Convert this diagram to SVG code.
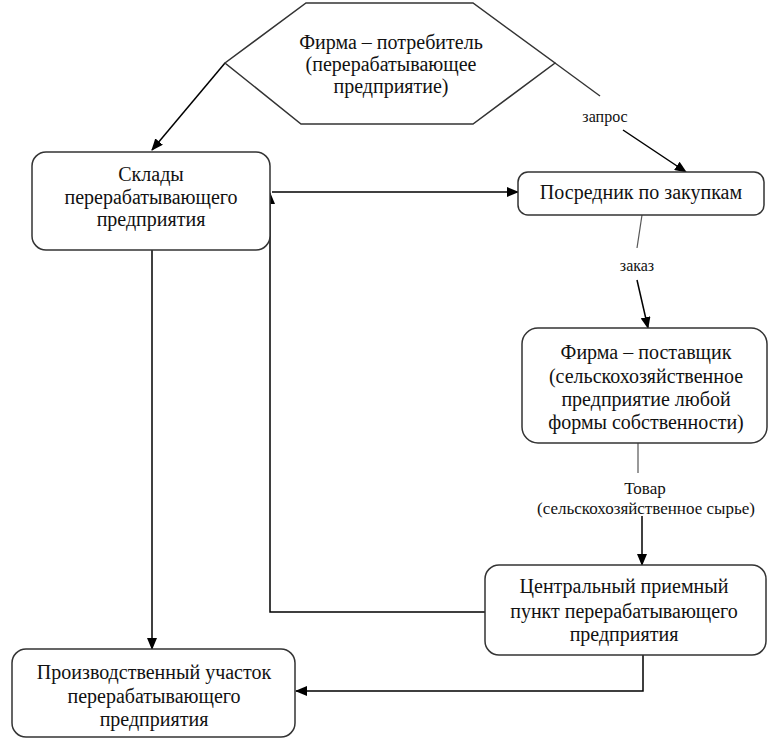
<svg xmlns="http://www.w3.org/2000/svg" width="773" height="741" viewBox="0 0 773 741">
  <defs>
    <marker id="arr" markerUnits="userSpaceOnUse" markerWidth="12" markerHeight="10" refX="11" refY="5" orient="auto">
      <path d="M0,0 L12,5 L0,10 Z" fill="#000"/>
    </marker>
    <style>
      .box { fill: #fff; stroke: #333; stroke-width: 1.5; }
      text { font-family: 'Liberation Serif', 'Times New Roman', 'DejaVu Serif', serif; fill: #111; text-anchor: middle; }
      .t { font-size: 20px; }
      .tb { font-size: 20px; }
      .lbl { font-size: 16px; }
      .lbl2 { font-size: 17px; }
      .c { fill: none; stroke: #000; stroke-width: 1.5; }
      .d { fill: none; stroke: #333; stroke-width: 1.4; }
      .g { fill: none; stroke: #555; stroke-width: 1.2; }
    </style>
  </defs>
  <rect width="773" height="741" fill="#fff"/>

  <g id="connectors">
    <line class="c" x1="225" y1="63" x2="152" y2="150" marker-end="url(#arr)"/>
    <line class="d" x1="555" y1="63" x2="600" y2="96"/>
    <line class="c" x1="623" y1="130" x2="686" y2="172" marker-end="url(#arr)"/>
    <line class="c" x1="272" y1="192" x2="518" y2="192" marker-end="url(#arr)"/>
    <line class="g" x1="642" y1="215" x2="637" y2="248"/>
    <line class="c" x1="637" y1="280" x2="648" y2="328" marker-end="url(#arr)"/>
    <line class="g" x1="638" y1="443" x2="638" y2="473"/>
    <line class="c" x1="642" y1="516" x2="642" y2="565" marker-end="url(#arr)"/>
    <polyline class="c" points="485,612 270,612 270,193" marker-end="url(#arr)"/>
    <line class="c" x1="152" y1="250" x2="152" y2="649" marker-end="url(#arr)"/>
    <polyline class="c" points="643,655 643,691 296,691" marker-end="url(#arr)"/>
  </g>

  <g id="labels" font-family="Liberation Serif, serif">
    <text class="lbl" x="605" y="122">запрос</text>
    <text class="lbl" x="637" y="271">заказ</text>
    <text class="lbl2" x="645" y="494">Товар</text>
    <text class="lbl2" x="646" y="514">(сельскохозяйственное сырье)</text>
  </g>

  <g id="consumer" font-family="Liberation Serif, serif">
    <polygon class="box" points="306,3 473,3 555,63 473,124 301,124 225,63"/>
    <text class="t" x="391" y="49">Фирма – потребитель</text>
    <text class="t" x="391" y="71">(перерабатывающее</text>
    <text class="t" x="391" y="93">предприятие)</text>
  </g>

  <g id="warehouses" font-family="Liberation Serif, serif">
    <rect class="box" x="32" y="152" width="238" height="98" rx="14"/>
    <text class="t" x="151" y="181">Склады</text>
    <text class="t" x="151" y="204">перерабатывающего</text>
    <text class="t" x="151" y="226">предприятия</text>
  </g>

  <g id="broker" font-family="Liberation Serif, serif">
    <rect class="box" x="518" y="172" width="246" height="43" rx="10"/>
    <text class="t" x="641" y="199">Посредник по закупкам</text>
  </g>

  <g id="supplier" font-family="Liberation Serif, serif">
    <rect class="box" x="522" y="328" width="245" height="115" rx="16"/>
    <text class="tb" x="646" y="359">Фирма – поставщик</text>
    <text class="tb" x="646" y="383">(сельскохозяйственное</text>
    <text class="tb" x="646" y="406">предприятие любой</text>
    <text class="tb" x="646" y="429">формы собственности)</text>
  </g>

  <g id="central" font-family="Liberation Serif, serif">
    <rect class="box" x="485" y="565" width="281" height="90" rx="14"/>
    <text class="t" x="624" y="593">Центральный приемный</text>
    <text class="t" x="624" y="618">пункт перерабатывающего</text>
    <text class="t" x="624" y="641">предприятия</text>
  </g>

  <g id="production" font-family="Liberation Serif, serif">
    <rect class="box" x="12" y="649" width="283" height="88" rx="14"/>
    <text class="t" x="154" y="679">Производственный участок</text>
    <text class="t" x="154" y="703">перерабатывающего</text>
    <text class="t" x="154" y="726">предприятия</text>
  </g>
</svg>
